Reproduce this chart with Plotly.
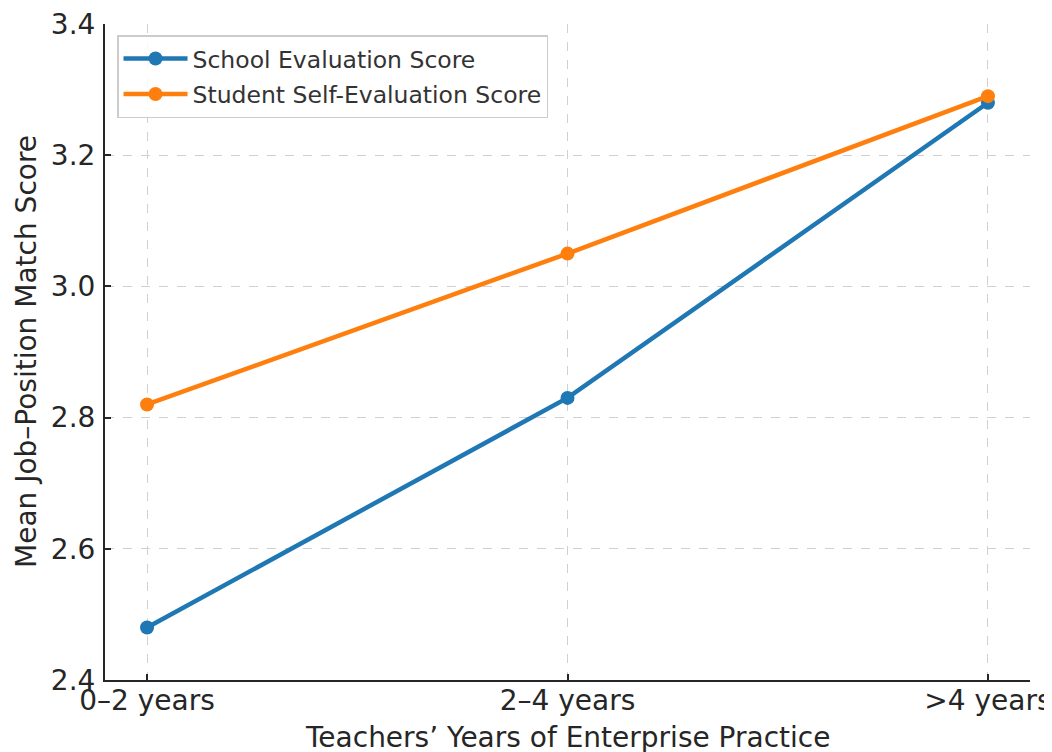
import plotly.graph_objects as go

categories = ["0–2 years", "2–4 years", ">4 years"]
school_scores = [2.48, 2.83, 3.28]
student_scores = [2.82, 3.05, 3.29]
y_ticks = [2.4, 2.6, 2.8, 3.0, 3.2, 3.4]
x_title = "Teachers’ Years of Enterprise Practice"
y_title = "Mean Job–Position Match Score"

FONT = "DejaVu Sans"
TXT = "#262626"

fig = go.Figure()
fig.add_trace(go.Scatter(
    x=categories, y=school_scores, mode="lines+markers",
    name="School Evaluation Score", legendgroup="a",
    line=dict(color="#1f77b4", width=4.5),
    marker=dict(color="#1f77b4", size=14),
))
fig.add_trace(go.Scatter(
    x=categories, y=student_scores, mode="lines+markers",
    name="Student Self-Evaluation Score", legendgroup="b",
    line=dict(color="#ff7f0e", width=4.5),
    marker=dict(color="#ff7f0e", size=14),
))

fig.update_layout(
    width=1044, height=744,
    margin=dict(l=97, r=22, t=16, b=72, autoexpand=False),
    paper_bgcolor="white", plot_bgcolor="white",
    font=dict(family=FONT, color=TXT, size=28),
    showlegend=True,
    legend=dict(
        x=0.013, y=0.983, xanchor="left", yanchor="top",
        bgcolor="rgba(255,255,255,0.85)", bordercolor="#cccccc", borderwidth=1.5,
        font=dict(family=FONT, size=23.5, color="#333333"),
        tracegroupgap=2, itemwidth=64,
    ),
    annotations=[
        dict(text=x_title, xref="paper", yref="paper", x=0.5, y=0,
             xanchor="center", yanchor="middle", yshift=-57, showarrow=False,
             font=dict(family=FONT, size=28, color=TXT)),
        dict(text=y_title, xref="paper", yref="paper", x=0, y=0.5,
             xanchor="center", yanchor="middle", xshift=-79, textangle=-90,
             showarrow=False, font=dict(family=FONT, size=28, color=TXT)),
    ],
)
fig.update_xaxes(
    type="category", range=[-0.1, 2.1], automargin=False,
    showline=True, linecolor="#262626", linewidth=2,
    ticks="inside", ticklen=6, tickwidth=1.5, tickcolor="#262626",
    showgrid=True, gridcolor="#d0d0d0", griddash="dash", gridwidth=1,
    tickfont=dict(family=FONT, size=28, color=TXT),
    ticklabelstandoff=-6, ticklabeloverflow="allow",
    zeroline=False, mirror=False,
)
fig.update_yaxes(
    range=[2.4, 3.4], tickvals=y_ticks, tickformat=".1f", automargin=False,
    showline=True, linecolor="#262626", linewidth=2,
    ticks="inside", ticklen=6, tickwidth=1.5, tickcolor="#262626",
    showgrid=True, gridcolor="#d0d0d0", griddash="dash", gridwidth=1,
    tickfont=dict(family=FONT, size=28, color=TXT),
    ticklabelstandoff=2, ticklabeloverflow="allow",
    zeroline=False, mirror=False,
)

fig.write_html("out.html")
